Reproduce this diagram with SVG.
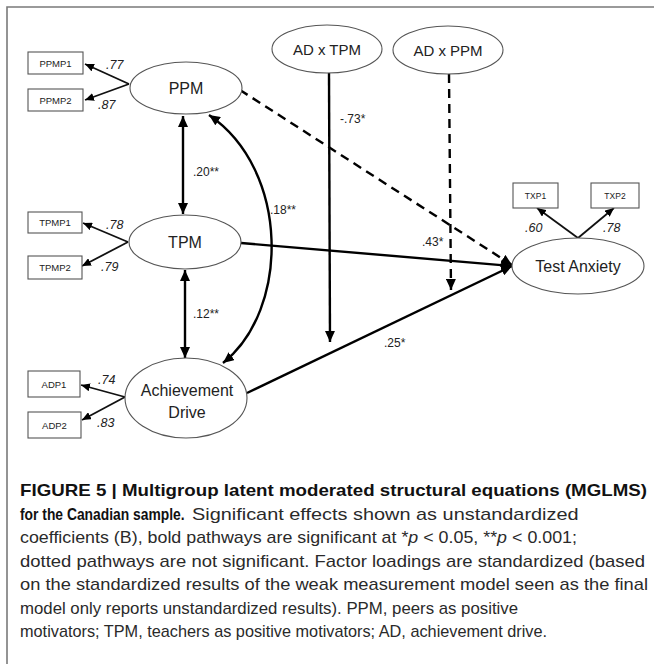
<svg xmlns="http://www.w3.org/2000/svg" width="654" height="664" viewBox="0 0 654 664">
  <style>
    .node ellipse { fill: #fff; stroke: #555; stroke-width: 1.1; }
    .box rect { fill: #fff; stroke: #555; stroke-width: 1.1; }
    .lbl { font-family: "Liberation Sans", Arial, sans-serif; fill: #222; }
    .ntxt { font-size: 16px; text-anchor: middle; }
    .btxt { font-size: 9.5px; text-anchor: middle; }
    .coef { font-size: 12px; }
    .load { font-size: 12.5px; font-style: italic; }
    .path { fill: none; stroke: #000; stroke-width: 2.4; }
    .dash { stroke-dasharray: 9 6; }
    .ld { fill: none; stroke: #111; stroke-width: 1.8; }
    .cap { font-family: "Liberation Sans", Arial, sans-serif; font-size: 17px; fill: #2a2a2a; }
    .capb { font-weight: bold; font-size: 16.5px; fill: #111; }
  </style>
  <defs>
    <marker id="ah" markerUnits="userSpaceOnUse" markerWidth="12" markerHeight="10" refX="11" refY="5" orient="auto-start-reverse">
      <path d="M0,0 L11,5 L0,10 Z" fill="#000"/>
    </marker>
    <marker id="ahs" markerUnits="userSpaceOnUse" markerWidth="10" markerHeight="8" refX="9" refY="4" orient="auto">
      <path d="M0,0 L9,4 L0,8 Z" fill="#000"/>
    </marker>
  </defs>

  <rect width="654" height="664" fill="#fff"/>
  <!-- frame -->
  <path d="M7,664 L7,7 L654,7" fill="none" stroke="#7a7a7a" stroke-width="1.6"/>

  <!-- connectors -->
  <g id="connectors">
    <!-- measurement loadings -->
    <line class="ld" x1="129" y1="84" x2="85" y2="64" marker-end="url(#ahs)"/>
    <line class="ld" x1="129" y1="84" x2="85" y2="100" marker-end="url(#ahs)"/>
    <line class="ld" x1="128" y1="242" x2="83" y2="223" marker-end="url(#ahs)"/>
    <line class="ld" x1="128" y1="242" x2="82" y2="266" marker-end="url(#ahs)"/>
    <line class="ld" x1="125" y1="397" x2="81" y2="385" marker-end="url(#ahs)"/>
    <line class="ld" x1="125" y1="397" x2="82" y2="420" marker-end="url(#ahs)"/>
    <line class="ld" x1="578" y1="238" x2="537" y2="208" marker-end="url(#ahs)"/>
    <line class="ld" x1="578" y1="238" x2="614" y2="208" marker-end="url(#ahs)"/>

    <!-- covariances -->
    <line class="path" x1="183" y1="116" x2="183" y2="214" marker-start="url(#ah)" marker-end="url(#ah)"/>
    <line class="path" x1="185" y1="270" x2="185" y2="358" marker-start="url(#ah)" marker-end="url(#ah)"/>
    <path class="path" d="M209,115 C290,170 290,310 223,363" marker-start="url(#ah)" marker-end="url(#ah)"/>

    <!-- structural paths -->
    <line class="path dash" x1="240" y1="90" x2="512" y2="265" marker-end="url(#ah)"/>
    <line class="path" x1="241" y1="243" x2="512" y2="266" marker-end="url(#ah)"/>
    <line class="path" x1="247" y1="393" x2="512" y2="266" marker-end="url(#ah)"/>
    <line class="path" x1="329" y1="73" x2="330" y2="342" marker-end="url(#ah)"/>
    <line class="path dash" x1="449" y1="74" x2="451" y2="290" marker-end="url(#ah)"/>
  </g>

  <!-- path coefficients -->
  <g id="coefficients" class="lbl">
    <text class="coef" x="340" y="123">-.73*</text>
    <text class="coef" x="422" y="246">.43*</text>
    <text class="coef" x="384" y="347">.25*</text>
    <text class="coef" x="193" y="176">.20**</text>
    <text class="coef" x="270" y="214">.18**</text>
    <text class="coef" x="193" y="318">.12**</text>
    <text class="load" x="106" y="69">.77</text>
    <text class="load" x="98" y="109">.87</text>
    <text class="load" x="106" y="229">.78</text>
    <text class="load" x="101" y="271">.79</text>
    <text class="load" x="98" y="384">.74</text>
    <text class="load" x="97" y="427">.83</text>
    <text class="load" x="525" y="232">.60</text>
    <text class="load" x="603" y="232">.78</text>
  </g>

  <!-- latent variables -->
  <g id="PPM" class="node">
    <ellipse cx="186" cy="88" rx="56" ry="26"/>
    <text class="lbl ntxt" x="186" y="94">PPM</text>
  </g>
  <g id="TPM" class="node">
    <ellipse cx="185" cy="242" rx="56" ry="27"/>
    <text class="lbl ntxt" x="185" y="248">TPM</text>
  </g>
  <g id="AchievementDrive" class="node">
    <ellipse cx="186" cy="398" rx="61" ry="40"/>
    <text class="lbl ntxt" x="187" y="396">Achievement</text>
    <text class="lbl ntxt" x="187" y="418">Drive</text>
  </g>
  <g id="ADxTPM" class="node">
    <ellipse cx="327" cy="49" rx="55" ry="24"/>
    <text class="lbl ntxt" x="327" y="55" style="font-size:15px">AD x TPM</text>
  </g>
  <g id="ADxPPM" class="node">
    <ellipse cx="448" cy="50" rx="55" ry="24"/>
    <text class="lbl ntxt" x="448" y="56" style="font-size:15px">AD x PPM</text>
  </g>
  <g id="TestAnxiety" class="node">
    <ellipse cx="578" cy="266" rx="66" ry="28"/>
    <text class="lbl ntxt" x="578" y="272">Test Anxiety</text>
  </g>

  <!-- indicators -->
  <g id="PPMP1" class="box"><rect x="28" y="52" width="55" height="22"/><text class="lbl btxt" x="55.5" y="66.5">PPMP1</text></g>
  <g id="PPMP2" class="box"><rect x="28" y="89" width="55" height="22"/><text class="lbl btxt" x="55.5" y="103.5">PPMP2</text></g>
  <g id="TPMP1" class="box"><rect x="28" y="212" width="54" height="21"/><text class="lbl btxt" x="55" y="226">TPMP1</text></g>
  <g id="TPMP2" class="box"><rect x="28" y="256" width="54" height="23"/><text class="lbl btxt" x="55" y="271">TPMP2</text></g>
  <g id="ADP1" class="box"><rect x="28" y="371" width="52" height="26"/><text class="lbl btxt" x="54" y="387.5">ADP1</text></g>
  <g id="ADP2" class="box"><rect x="28" y="412" width="53" height="26"/><text class="lbl btxt" x="54.5" y="428.5">ADP2</text></g>
  <g id="TXP1" class="box"><rect x="513" y="183" width="45" height="25"/><text class="lbl btxt" x="535.5" y="199" style="font-size:8.5px">TXP1</text></g>
  <g id="TXP2" class="box"><rect x="591" y="183" width="48" height="25"/><text class="lbl btxt" x="615" y="199" style="font-size:8.5px">TXP2</text></g>

  <!-- caption -->
  <g id="caption">
    <text class="cap capb" x="20" y="496" textLength="627" lengthAdjust="spacingAndGlyphs">FIGURE 5 | Multigroup latent moderated structural equations (MGLMS)</text>
    <text class="cap capb" transform="translate(20,520) scale(0.84,1)">for the Canadian sample.</text>
    <text class="cap" transform="translate(192,520) scale(1.17,1)">Significant effects shown as unstandardized</text>
    <text class="cap" x="20" y="543" textLength="557" lengthAdjust="spacingAndGlyphs">coefficients (B), bold pathways are significant at *<tspan font-style="italic">p</tspan> &lt; 0.05, **<tspan font-style="italic">p</tspan> &lt; 0.001;</text>
    <text class="cap" x="20" y="567" textLength="625" lengthAdjust="spacingAndGlyphs">dotted pathways are not significant. Factor loadings are standardized (based</text>
    <text class="cap" x="20" y="590" textLength="628" lengthAdjust="spacingAndGlyphs">on the standardized results of the weak measurement model seen as the final</text>
    <text class="cap" x="20" y="614" textLength="498" lengthAdjust="spacingAndGlyphs">model only reports unstandardized results). PPM, peers as positive</text>
    <text class="cap" x="20" y="637" textLength="527" lengthAdjust="spacingAndGlyphs">motivators; TPM, teachers as positive motivators; AD, achievement drive.</text>
  </g>
</svg>
